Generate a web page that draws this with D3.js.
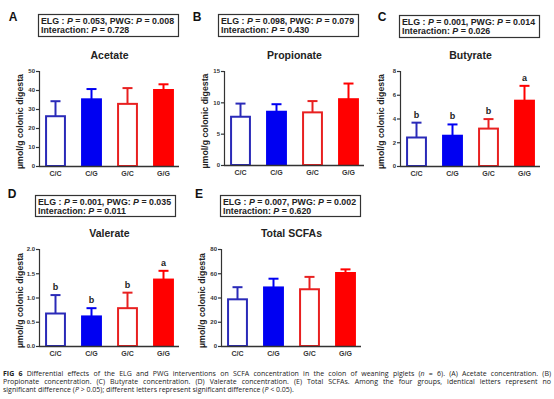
<!DOCTYPE html>
<html>
<head>
<meta charset="utf-8">
<script src="https://cdn.jsdelivr.net/npm/d3@7"></script>
<style>
  body { margin: 0; background: #fff; }
  svg { display: block; }
  text { font-family: "Liberation Sans", Arial, sans-serif; }
</style>
</head>
<body>
<div id="chart"></div>
<script>
// groups and values (mean, sd)
var groups = ["C/C", "C/G", "G/C", "G/G"];

var acetate = [26.2, 35.1, 32.7, 40.0];
var acetateSD = [7.9, 5.4, 8.3, 3.0];
var propionate = [7.7, 8.5, 8.4, 10.5];
var propionateSD = [2.1, 1.2, 1.8, 2.5];
var butyrate = [2.4, 2.55, 3.15, 5.5];
var butyrateSD = [1.25, 0.95, 0.8, 1.25];
var valerate = [0.67, 0.61, 0.78, 1.37];
var valerateSD = [0.38, 0.17, 0.32, 0.18];
var totalScfa = [38.5, 48.3, 46.8, 60.2];
var totalScfaSD = [10.0, 7.2, 10.2, 3.0];

var butyrateLetters = ["b", "b", "b", "a"];
var valerateLetters = ["b", "b", "b", "a"];

var panelLabels = ["A", "B", "C", "D", "E"];
var titles = ["Acetate", "Propionate", "Butyrate", "Valerate", "Total SCFAs"];
var elgP = ["0.053", "0.098", "0.001", "0.001", "0.007"];
var pwgP = ["0.008", "0.079", "0.014", "0.035", "0.002"];
var interP = ["0.728", "0.430", "0.026", "0.011", "0.620"];
var yMax = [50, 15, 8, 2, 80];
var yStep = [10, 5, 2, 0.5, 20];

var fills = ["#fff", "#0000f2", "#fff", "#ff0000"];
var strokes = ["#2a2ab8", "#0000f2", "#e82020", "#ff0000"];

var W = 554, H = 399;
var svg = d3.select("#chart").append("svg").attr("width", W).attr("height", H);

// layout for each panel
var layout = [
    {ax: 39,  top: 71,  bottom: 166, boxX: 38,  boxY: 14,  boxH: 22, lx: 13,  ly: 21},
    {ax: 224, top: 71,  bottom: 165, boxX: 218, boxY: 14,  boxH: 22, lx: 197, ly: 21},
    {ax: 400, top: 71,  bottom: 166, boxX: 399, boxY: 15,  boxH: 22, lx: 382, ly: 21},
    {ax: 39,  top: 249, bottom: 346, boxX: 35,  boxY: 195, boxH: 21, lx: 12,  ly: 198},
    {ax: 221, top: 249, bottom: 346, boxX: 220, boxY: 195, boxH: 21, lx: 199, ly: 198}
];

var means = [acetate, propionate, butyrate, valerate, totalScfa];
var sds = [acetateSD, propionateSD, butyrateSD, valerateSD, totalScfaSD];
var letters = [null, null, butyrateLetters, valerateLetters, null];

function drawPanel(i) {
    var L = layout[i];
    var g = svg.append("g");

    var y = d3.scaleLinear().domain([0, yMax[i]]).range([L.bottom, L.top]);
    var x = d3.scaleBand().domain(groups)
        .range([L.ax - 1.5, L.ax - 1.5 + 144])
        .paddingInner(0.42).paddingOuter(0.21);

    var data = groups.map(function (gname, j) {
        return {g: gname, m: means[i][j], sd: sds[i][j], k: j,
                letter: letters[i] ? letters[i][j] : null};
    });

    // error bars (upper only)
    var eb = g.selectAll(".eb").data(data).enter().append("g");
    eb.append("line")
        .attr("x1", function (d) { return x(d.g) + x.bandwidth() / 2; })
        .attr("x2", function (d) { return x(d.g) + x.bandwidth() / 2; })
        .attr("y1", function (d) { return y(d.m); })
        .attr("y2", function (d) { return y(d.m + d.sd); })
        .attr("stroke", function (d) { return strokes[d.k]; })
        .attr("stroke-width", 2);
    eb.append("line")
        .attr("x1", function (d) { return x(d.g) + x.bandwidth() / 2 - 5; })
        .attr("x2", function (d) { return x(d.g) + x.bandwidth() / 2 + 5; })
        .attr("y1", function (d) { return y(d.m + d.sd); })
        .attr("y2", function (d) { return y(d.m + d.sd); })
        .attr("stroke", function (d) { return strokes[d.k]; })
        .attr("stroke-width", 2);

    // bars
    g.selectAll("rect.bar").data(data).enter().append("rect")
        .attr("class", "bar")
        .attr("x", function (d) { return x(d.g) + 1; })
        .attr("y", function (d) { return y(d.m); })
        .attr("width", x.bandwidth() - 2)
        .attr("height", function (d) { return y(0) - y(d.m); })
        .style("fill", function (d) { return fills[d.k]; })
        .style("stroke", function (d) { return strokes[d.k]; })
        .style("stroke-width", 2);

    // significance letters
    g.selectAll("text.sig").data(data.filter(function (d) { return d.letter; }))
        .enter().append("text")
        .attr("x", function (d) { return x(d.g) + x.bandwidth() / 2; })
        .attr("y", function (d) { return y(d.m + d.sd) - 5; })
        .attr("text-anchor", "middle")
        .style("font-size", "9px").style("font-weight", "bold").style("fill", "#222")
        .text(function (d) { return d.letter; });

    // y axis
    var fmt = yStep[i] < 1 ? d3.format(".1f") : d3.format("d");
    var yAxis = d3.axisLeft(y).tickValues(d3.range(0, yMax[i] + 1e-9, yStep[i]))
        .tickSize(3).tickPadding(1).tickFormat(fmt);
    var ya = g.append("g").attr("transform", "translate(" + L.ax + ",0)").call(yAxis);
    ya.select(".domain").attr("stroke", "#333").attr("stroke-width", 1.2);
    ya.selectAll(".tick line").attr("stroke", "#333").attr("stroke-width", 1.2);
    ya.selectAll(".tick text").style("font-size", "6px").style("font-weight", "bold")
        .style("fill", "#333").style("font-family", "Liberation Sans, Arial, sans-serif");

    // x axis
    var xAxis = d3.axisBottom(x).tickSize(0).tickPadding(5);
    var xa = g.append("g").attr("transform", "translate(0," + L.bottom + ")").call(xAxis);
    xa.select(".domain").attr("d", "M" + L.ax + ",0.5H" + (L.ax + 140))
        .attr("stroke", "#333").attr("stroke-width", 1.4);
    xa.selectAll(".tick text").style("font-size", "7px").style("font-weight", "bold")
        .style("fill", "#333").style("font-family", "Liberation Sans, Arial, sans-serif");

    // y axis title
    var midY = (L.top + L.bottom) / 2 + 3;
    g.append("text")
        .attr("transform", "translate(" + (L.ax - 16) + "," + midY + ") rotate(-90)")
        .attr("text-anchor", "middle")
        .style("font-size", "8.8px").style("font-weight", "bold").style("fill", "#222")
        .text("\u00b5mol/g colonic digesta");

    // title
    var cx = (x(groups[0]) + x(groups[3]) + x.bandwidth()) / 2;
    g.append("text").attr("x", cx).attr("y", L.top - 12)
        .attr("text-anchor", "middle")
        .style("font-size", "10.5px").style("font-weight", "bold").style("fill", "#222")
        .text(titles[i]);

    // p-value box
    g.append("rect").attr("x", L.boxX + 0.5).attr("y", L.boxY + 0.5)
        .attr("width", 140).attr("height", L.boxH)
        .style("fill", "#fff").style("stroke", "#333").style("stroke-width", 1.2);
    var t1 = g.append("text").attr("x", L.boxX + 3).attr("y", L.boxY + 9.5)
        .style("font-size", "8.8px").style("font-weight", "bold").style("fill", "#222");
    t1.append("tspan").text("ELG : ");
    t1.append("tspan").style("font-style", "italic").text("P");
    t1.append("tspan").text(" = " + elgP[i] + ", PWG: ");
    t1.append("tspan").style("font-style", "italic").text("P");
    t1.append("tspan").text(" = " + pwgP[i]);
    var t2 = g.append("text").attr("x", L.boxX + 3).attr("y", L.boxY + 19)
        .style("font-size", "8.8px").style("font-weight", "bold").style("fill", "#222");
    t2.append("tspan").text("Interaction: ");
    t2.append("tspan").style("font-style", "italic").text("P");
    t2.append("tspan").text(" = " + interP[i]);

    // panel letter
    g.append("text").attr("x", L.lx).attr("y", L.ly)
        .attr("text-anchor", "middle")
        .style("font-size", "12px").style("font-weight", "bold").style("fill", "#111")
        .text(panelLabels[i]);
}

for (var i = 0; i < 5; i++) drawPanel(i);

// caption
var captionLines = [
    [["b", "FIG 6"], ["n", " Differential effects of the ELG and PWG interventions on SCFA concentration in the colon of weaning piglets ("], ["i", "n"], ["n", " = 6). (A) Acetate concentration. (B)"]],
    [["n", "Propionate concentration. (C) Butyrate concentration. (D) Valerate concentration. (E) Total SCFAs. Among the four groups, identical letters represent no"]],
    [["n", "significant difference ("], ["i", "P"], ["n", " > 0.05); different letters represent significant difference ("], ["i", "P"], ["n", " < 0.05)."]]
];

captionLines.forEach(function (parts, k) {
    var t = svg.append("text").attr("x", 3).attr("y", 376 + k * 8)
        .style("font-family", "Open Sans, Noto Sans, sans-serif")
        .style("font-size", "7px").style("fill", "#222");
    parts.forEach(function (p) {
        var s = t.append("tspan").text(p[1]);
        if (p[0] === "b") s.style("font-weight", "bold");
        if (p[0] === "i") s.style("font-style", "italic");
    });
    if (k < 2) {
        var w = t.node().getComputedTextLength();
        var spaces = parts.map(function (p) { return p[1]; }).join("").split(" ").length - 1;
        t.style("word-spacing", ((548 - w) / spaces) + "px");
    }
});
</script>
</body>
</html>
